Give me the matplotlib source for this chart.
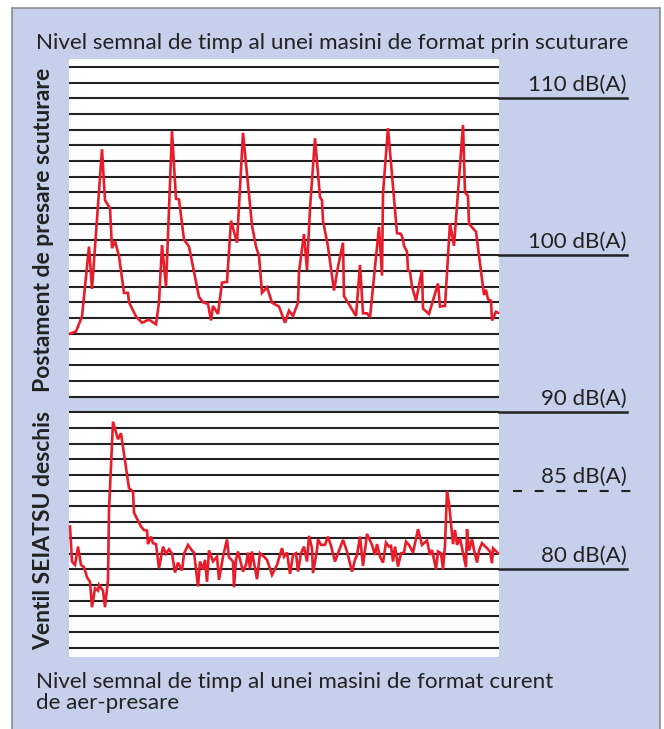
import matplotlib
matplotlib.use("Agg")
import matplotlib.pyplot as plt
from matplotlib.patches import Rectangle

# signal of the shaking machine (time in arbitrary units, level in dB(A))
top_t = [0, 6, 12, 19, 22, 32, 35, 40, 42, 45, 49, 54, 58, 59, 66, 72, 79, 86, 89, 92,
         96, 102, 106, 109, 114, 119, 129, 133, 138, 141, 143, 148, 152, 157, 161, 167,
         173, 182, 186, 189, 192, 197, 202, 209, 215, 219, 223, 228, 229, 234, 237, 240,
         245, 250, 252, 253, 258, 264, 268, 273, 274, 280, 286, 290, 293, 297, 300, 309,
         312, 313, 318, 327, 331, 333, 334, 337, 338, 340, 342, 346, 352, 353, 359, 368,
         370, 375, 380, 384, 393, 395, 398, 399, 406, 414, 416, 418, 421, 422, 426, 428]
top_db = [95.0, 95.15, 96.1, 100.55, 97.85, 106.75, 103.5, 103.0, 100.45, 100.9, 99.95,
          97.6, 97.6, 97.0, 96.1, 95.7, 95.9, 95.6, 97.0, 100.65, 98.0, 107.9, 103.6,
          103.55, 101.0, 100.55, 97.35, 97.0, 96.9, 95.85, 96.77, 96.26, 98.26, 98.3,
          102.2, 100.8, 107.8, 101.9, 100.55, 99.96, 97.6, 97.96, 96.98, 96.73, 95.7,
          96.47, 96.13, 96.98, 98.96, 101.35, 99.06, 103.0, 107.45, 103.7, 103.5, 102.2,
          100.55, 97.75, 99.27, 100.8, 97.4, 96.77, 96.13, 99.38, 96.3, 96.3, 96.05,
          101.8, 98.7, 103.95, 108.1, 101.4, 101.36, 101.0, 100.6, 100.23, 99.06, 98.96,
          98.0, 97.1, 99.06, 96.6, 96.26, 98.2, 96.73, 96.77, 102.04, 100.6, 108.3,
          103.99, 103.78, 102.0, 101.5, 97.47, 97.8, 97.2, 97.1, 95.84, 96.4, 96.34]

# signal of the air-pressure machine with SEIATSU valve open
bot_t = [0, 2, 5, 8, 11, 14, 17, 20, 22, 25, 28, 29, 33, 35, 38, 39, 43, 48, 51, 59, 63,
         64, 71, 74, 77, 78, 81, 83, 86, 89, 93, 96, 99, 102, 105, 108, 112, 114, 118, 122,
         124, 128, 130, 133, 135, 137, 139, 143, 147, 149, 153, 157, 159, 163, 164, 166,
         168, 173, 176, 178, 180, 182, 184, 187, 190, 194, 197, 202, 207, 212, 214, 217,
         220, 223, 226, 228, 231, 234, 237, 239, 242, 243, 247, 248, 251, 255, 258, 261,
         265, 268, 273, 277, 282, 285, 287, 290, 293, 297, 302, 305, 307, 310, 313, 316,
         319, 321, 323, 325, 328, 331, 334, 336, 339, 343, 348, 352, 357, 360, 362, 366,
         368, 371, 373, 375, 377, 379, 383, 385, 387, 390, 396, 397, 399, 402, 404, 407,
         409, 412, 417, 420, 422, 423, 428]
bot_db = [82.72, 80.49, 80.28, 81.44, 80.28, 80.13, 79.49, 79.2, 77.58, 78.79, 78.64,
          79.0, 78.64, 77.58, 79.32, 83.78, 89.4, 88.28, 88.66, 85.16, 84.95, 83.6, 82.72,
          82.5, 82.46, 81.6, 82.08, 81.66, 81.6, 80.06, 81.44, 80.98, 81.27, 81.0, 79.79,
          80.42, 79.92, 80.98, 81.55, 81.19, 81.06, 78.9, 80.49, 80.0, 80.6, 79.2, 81.2,
          80.5, 80.8, 79.32, 80.8, 81.9, 80.76, 80.49, 78.85, 80.6, 81.13, 79.85, 80.28,
          81.06, 80.06, 81.13, 80.42, 79.36, 81.02, 80.8, 80.6, 79.64, 80.28, 81.34, 80.8,
          81.06, 79.7, 80.91, 81.02, 79.85, 81.02, 81.44, 80.49, 82.12, 81.34, 79.75,
          81.23, 81.9, 81.55, 81.55, 82.08, 81.49, 80.49, 81.02, 81.87, 81.13, 79.85,
          80.6, 80.91, 82.08, 80.21, 82.25, 81.55, 80.91, 81.6, 80.8, 80.42, 81.7, 81.44,
          81.49, 80.49, 81.44, 80.17, 81.02, 81.06, 81.76, 81.55, 81.06, 82.55, 81.55,
          81.83, 80.91, 81.23, 80.0, 81.13, 81.02, 80.0, 81.55, 84.95, 84.2, 81.6, 82.5,
          81.55, 81.97, 80.13, 82.55, 81.19, 81.9, 81.23, 80.42, 81.19, 81.66, 81.34,
          81.13, 80.38, 81.34, 81.02]

levels = [110, 100, 90, 85, 80]
level_labels = ["110 dB(A)", "100 dB(A)", "90 dB(A)", "85 dB(A)", "80 dB(A)"]
grid_levels = list(range(75, 113))

blue = "#c6d0ea"
red = "#ea1c2a"
ink = "#222222"
font = ["Lato", "DejaVu Sans"]

plt.rcParams["lines.scale_dashes"] = False
fig = plt.figure(figsize=(6.64, 7.29), dpi=100, facecolor="white")

# blue frame behind everything
fig.patches.append(Rectangle((12 / 664, -0.01), 648 / 664, (729 - 8) / 729 + 0.01,
                             transform=fig.transFigure, facecolor=blue,
                             edgecolor="#8e8e8e", lw=1.2, zorder=-10))

ax = fig.add_axes([60 / 664, (729 - 657) / 729, 580 / 664, 598 / 729])
ax.set_zorder(5)
ax.set_xlim(-10, 570)
ax.set_ylim(74.41, 112.5)
ax.axis("off")

# white panels
ax.add_patch(Rectangle((-1, 90.97), 430, 112.5 - 90.97, facecolor="white", lw=0))
ax.add_patch(Rectangle((-1, 74.41), 430, 90.06 - 74.41, facecolor="white", lw=0))

ax.hlines(grid_levels, -1, 429, color=ink, lw=1.5)

for lev, lab in zip(levels, level_labels):
    if lev == 85:
        ax.plot([443, 562], [lev, lev], color=ink, lw=1.5, dashes=(6.5, 9.1))
    else:
        ax.plot([429, 557], [lev, lev], color=ink, lw=1.8)
    ax.text(557, lev + 0.5, lab, ha="right", va="baseline", fontsize=16,
            color=ink, family=font)

ax.plot(top_t, top_db, color=red, lw=1.9, solid_joinstyle="miter")
ax.plot(bot_t, bot_db, color=red, lw=1.9, solid_joinstyle="miter")

fig.text(36 / 664, 1 - 49 / 729, "Nivel semnal de timp al unei masini de format prin scuturare",
         fontsize=16.2, color=ink, family=font, va="baseline")
fig.text(44 / 664, 1 - 230 / 729, "Postament de presare scuturare", rotation=90,
         fontsize=16.5, fontweight="bold", color=ink, family=font, ha="center", va="center")
fig.text(44 / 664, 1 - 530 / 729, "Ventil SEIATSU deschis", rotation=90,
         fontsize=16.5, fontweight="bold", color=ink, family=font, ha="center", va="center")
fig.text(36 / 664, 1 - 688 / 729, "Nivel semnal de timp al unei masini de format curent",
         fontsize=16.1, color=ink, family=font, va="baseline")
fig.text(36 / 664, 1 - 709 / 729, "de aer-presare",
         fontsize=16.1, color=ink, family=font, va="baseline")

fig.savefig("out.png", dpi=100, facecolor=fig.get_facecolor())
